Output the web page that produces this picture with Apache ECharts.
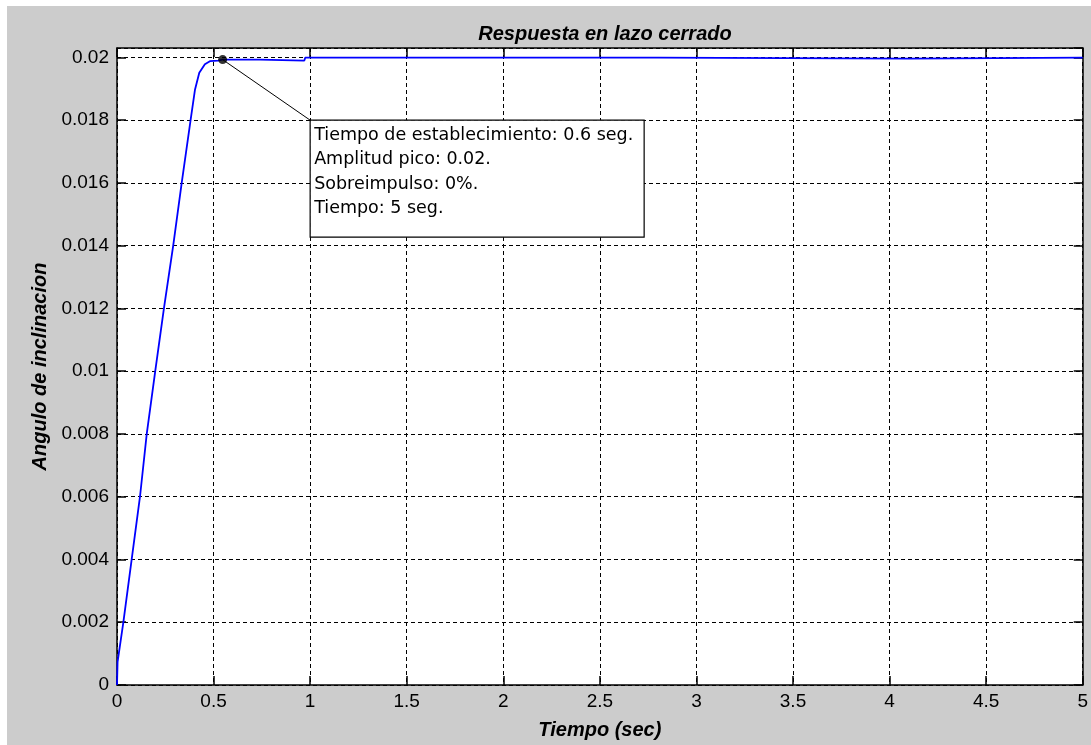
<!DOCTYPE html>
<html>
<head>
<meta charset="utf-8">
<script src="https://cdn.jsdelivr.net/npm/echarts@6/dist/echarts.min.js"></script>
<style>
  html, body { margin: 0; padding: 0; background: #ffffff; }
  #chart { width: 1091px; height: 745px; }
</style>
</head>
<body>
<div id="chart"></div>
<script>
// Closed-loop step response: time (s) and tilt angle
const timeSec = [0, 0.003, 0.033, 0.076, 0.119, 0.154, 0.198, 0.243, 0.291, 0.335, 0.381, 0.404, 0.426, 0.455, 0.481, 0.524, 0.547, 0.74, 0.745, 0.97, 0.975, 2.8, 2.805, 4.1, 4.105, 5];
const angle   = [0, 0.00074, 0.002, 0.004, 0.006, 0.008, 0.010, 0.012, 0.014, 0.016, 0.018, 0.01898, 0.01951, 0.01978, 0.01988, 0.0199, 0.01993, 0.01993, 0.0199, 0.0199, 0.019995, 0.019995, 0.01996, 0.01996, 0.019995, 0.019995];

// Data tip: marked point and the corner of its text box
const tipPoint = [0.547, 0.01993];
const tipBoxCorner = [1.0, 0.018];
const tipLines = [
  'Tiempo de establecimiento: 0.6 seg.',
  'Amplitud pico: 0.02.',
  'Sobreimpulso: 0%.',
  'Tiempo: 5 seg.'
];

const xTicks = { min: 0, max: 5, interval: 0.5 };
const yTicks = { min: 0, max: 0.0203, interval: 0.002 };

function labelFont(extra) {
  return Object.assign({ fontFamily: 'Liberation Sans', fontSize: 19, color: '#000' }, extra);
}
function nameFont() {
  return { fontFamily: 'Liberation Sans', fontSize: 20, fontWeight: 'bold', fontStyle: 'italic', color: '#000' };
}
// box edges stay on the grid border instead of snapping to zero
function boxLine() { return { show: true, onZero: false, lineStyle: { color: '#000', width: 1.5 } }; }
// tick marks pointing into the plot box
function tickIn() { return { show: true, inside: true, length: 9, lineStyle: { color: '#000', width: 1.5 } }; }
function gridDash() { return { show: true, lineStyle: { color: '#000', width: 1, type: [4, 3] } }; }

function yLabel(v) {
  const k = Math.round(v / yTicks.interval);
  if (Math.abs(k * yTicks.interval - v) > 1e-9) return '';
  return String(parseFloat(v.toFixed(3)));
}

const chart = echarts.init(document.getElementById('chart'));
chart.setOption({
  backgroundColor: '#cccccc',
  animation: false,
  title: {
    text: 'Respuesta en lazo cerrado',
    left: 600, top: 19, textAlign: 'center',
    textStyle: nameFont()
  },
  grid: { left: 117, right: 8, top: 48, bottom: 59, show: true, backgroundColor: '#ffffff', borderWidth: 0 },
  xAxis: [
    {
      type: 'value', position: 'bottom', min: xTicks.min, max: xTicks.max, interval: xTicks.interval,
      axisLine: boxLine(), axisTick: tickIn(), splitLine: gridDash(),
      axisLabel: labelFont({ margin: 7 }),
      name: 'Tiempo (sec)', nameLocation: 'middle', nameGap: 35, nameTextStyle: nameFont()
    },
    {
      type: 'value', position: 'top', min: xTicks.min, max: xTicks.max, interval: xTicks.interval,
      axisLine: boxLine(), axisTick: tickIn(), splitLine: { show: false }, axisLabel: { show: false }
    }
  ],
  yAxis: [
    {
      type: 'value', position: 'left', min: yTicks.min, max: yTicks.max, interval: yTicks.interval,
      axisLine: boxLine(), axisTick: tickIn(), splitLine: gridDash(),
      axisLabel: labelFont({ margin: 8, formatter: yLabel, showMaxLabel: false }),
      name: 'Angulo de inclinacion', nameLocation: 'middle', nameGap: 66, nameRotate: 90, nameTextStyle: nameFont()
    },
    {
      type: 'value', position: 'right', min: yTicks.min, max: yTicks.max, interval: yTicks.interval,
      axisLine: boxLine(), axisTick: tickIn(), splitLine: { show: false }, axisLabel: { show: false }
    }
  ],
  series: [
    {
      type: 'line', name: 'respuesta', showSymbol: false, z: 3,
      data: timeSec.map((t, i) => [t, angle[i]]),
      lineStyle: { color: '#0000ff', width: 1.8 }
    },
    {
      type: 'line', name: 'tip', showSymbol: false, z: 4,
      data: [tipPoint, tipBoxCorner],
      lineStyle: { color: '#000', width: 1 }
    },
    {
      type: 'scatter', name: 'punto', z: 5,
      data: [tipPoint], symbolSize: 9,
      itemStyle: { color: '#000' }
    }
  ]
});

// White strips along the top and left edges, plus the data-tip text box
const corner = chart.convertToPixel({ xAxisIndex: 0, yAxisIndex: 0 }, tipBoxCorner);
chart.setOption({
  graphic: [
    { type: 'rect', left: 0, top: 0, shape: { width: 1091, height: 6 }, style: { fill: '#ffffff' }, silent: true },
    { type: 'rect', left: 0, top: 0, shape: { width: 7, height: 745 }, style: { fill: '#ffffff' }, silent: true },
    {
      type: 'group', x: corner[0], y: corner[1], z: 100,
      children: [
        { type: 'rect', shape: { x: 0, y: 0, width: 334, height: 117 }, style: { fill: '#ffffff', stroke: '#000', lineWidth: 1.2 } },
        {
          type: 'text', x: 4, y: 3,
          style: {
            text: tipLines.join('\n'), fill: '#000',
            font: '17.5px "DejaVu Sans"', lineHeight: 24.5
          }
        }
      ]
    }
  ]
});
</script>
</body>
</html>
